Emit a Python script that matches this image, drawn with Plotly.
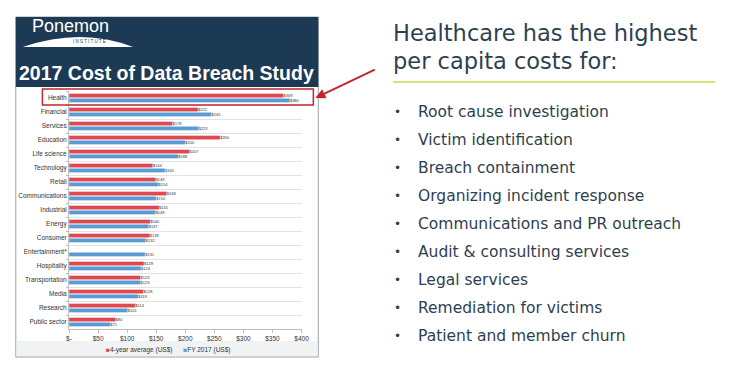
import plotly.graph_objects as go

W, H = 746, 369

categories = ["Health", "Financial", "Services", "Education", "Life science", "Technology",
              "Retail", "Communications", "Industrial", "Energy", "Consumer", "Entertainment*",
              "Hospitality", "Transportation", "Media", "Research", "Public sector"]
avg_4yr = [369, 222, 178, 260, 207, 144, 149, 168, 155, 140, 139, None, 129, 123, 128, 114, 80]
fy_2017 = [380, 245, 223, 200, 188, 165, 154, 150, 149, 137, 132, 131, 124, 123, 119, 101, 71]
tick_vals = [0, 50, 100, 150, 200, 250, 300, 350, 400]
tick_text = ["$-", "$50", "$100", "$150", "$200", "$250", "$300", "$350", "$400"]
series_names = ["4-year average (US$)", "FY 2017 (US$)"]

heading = ["Healthcare has the highest", "per capita costs for:"]
bullets = ["Root cause investigation", "Victim identification", "Breach containment",
           "Organizing incident response", "Communications and PR outreach",
           "Audit & consulting services", "Legal services", "Remediation for victims",
           "Patient and member churn"]

RED = "#e2474e"
BLUE = "#5b9bd5"
NAVY = "#1d3a55"
TXT = "#2e3f50"


def px(x):
    return x / W


def py(y):
    return 1 - y / H


def lab(v):
    return "" if v is None else f"${v}"


fig = go.Figure()
fig.add_trace(go.Bar(y=categories, x=avg_4yr, orientation="h", name=series_names[0],
                     marker_color=RED, text=[lab(v) for v in avg_4yr], textposition="outside",
                     textfont=dict(size=5.8, color="#333"), cliponaxis=False))
fig.add_trace(go.Bar(y=categories, x=fy_2017, orientation="h", name=series_names[1],
                     marker_color=BLUE, text=[lab(v) for v in fy_2017], textposition="outside",
                     textfont=dict(size=5.8, color="#333"), cliponaxis=False))

shapes = []
shapes.append(dict(type="rect", xref="paper", yref="paper", x0=px(13), x1=px(320), y0=py(357), y1=py(17),
                   line=dict(color="#9aa3ab", width=1), fillcolor="white", layer="below"))
shapes.append(dict(type="rect", xref="paper", yref="paper", x0=px(14), x1=px(319), y0=py(341), y1=py(356),
                   line=dict(width=0), fillcolor="#f1f2f3", layer="below"))
shapes.append(dict(type="rect", xref="paper", yref="paper", x0=px(13), x1=px(320), y0=py(87), y1=py(17),
                   line=dict(width=0), fillcolor=NAVY, layer="below"))
shapes.append(dict(type="path", xref="paper", yref="paper",
                   path=f"M {px(20)},{py(47)} Q {px(80)},{py(27)} {px(132)},{py(47)} Z",
                   line=dict(width=0), fillcolor="white"))
shapes.append(dict(type="rect", xref="paper", yref="paper", x0=px(40), x1=px(315), y0=py(105), y1=py(89),
                   line=dict(color="#c1272d", width=1.5)))
shapes.append(dict(type="line", xref="paper", yref="paper", x0=px(396), x1=px(723), y0=py(82), y1=py(82),
                   line=dict(color="#c8d84e", width=1.5)))

ann = []
ann.append(dict(text="Ponemon", x=px(27), y=py(26), xref="paper", yref="paper", xanchor="left",
                yanchor="middle", showarrow=False, font=dict(family="Liberation Sans", size=18, color="white")))
ann.append(dict(text="I N S T I T U T E", x=px(88), y=py(42), xref="paper", yref="paper", xanchor="center",
                yanchor="middle", showarrow=False, font=dict(family="Liberation Sans", size=4.5, color=NAVY)))
ann.append(dict(text="<b>2017 Cost of Data Breach Study</b>", x=px(166), y=py(73), xref="paper", yref="paper",
                xanchor="center", yanchor="middle", showarrow=False,
                font=dict(family="Liberation Sans", size=19.5, color="white")))
ann.append(dict(text="", x=px(317), y=py(98), xref="paper", yref="paper", showarrow=True,
                ax=61, ay=-29, arrowcolor="#c1272d", arrowwidth=2, arrowhead=2, arrowsize=1))
legend_html = (f"<span style='color:{RED}'>■</span>{series_names[0]}      "
               f"<span style='color:{BLUE}'>■</span>{series_names[1]}")
ann.append(dict(text=legend_html, x=px(167), y=py(350), xref="paper", yref="paper", xanchor="center",
                yanchor="middle", showarrow=False, font=dict(family="Liberation Sans", size=6.5, color="#333")))
for i, line in enumerate(heading):
    ann.append(dict(text=line, x=px(394), y=py(33 + 28 * i), xref="paper", yref="paper", xanchor="left",
                    yanchor="middle", showarrow=False, font=dict(family="DejaVu Sans", size=22.5, color=TXT)))
for i, b in enumerate(bullets):
    yy = py(112 + 28 * i)
    ann.append(dict(text="•", x=px(400), y=yy, xref="paper", yref="paper", xanchor="center",
                    yanchor="middle", showarrow=False, font=dict(family="DejaVu Sans", size=12, color=TXT)))
    ann.append(dict(text=b, x=px(419), y=yy, xref="paper", yref="paper", xanchor="left",
                    yanchor="middle", showarrow=False, font=dict(family="DejaVu Sans", size=15.5, color=TXT)))

fig.update_layout(
    width=W, height=H, autosize=False,
    margin=dict(l=0, r=0, t=0, b=0),
    paper_bgcolor="white", plot_bgcolor="white",
    barmode="group", bargap=0.3, bargroupgap=0.15,
    font=dict(family="Liberation Sans", color="#333"),
    xaxis=dict(domain=[px(67), px(303)], range=[0, 400], tickvals=tick_vals, ticktext=tick_text,
               showgrid=False, showline=True, linecolor="#bfbfbf", ticks="outside", ticklen=3,
               tickcolor="#bfbfbf", tickfont=dict(size=6.5, color="#333"), zeroline=False, fixedrange=True),
    yaxis=dict(domain=[py(329), py(91)], autorange="reversed", type="category",
               tickson="boundaries", showgrid=True, gridcolor="#e3e3e3", showline=True,
               linecolor="#bfbfbf", ticks="outside", ticklen=2, tickcolor="#bfbfbf",
               tickfont=dict(size=6.5, color="#333"), fixedrange=True),
    showlegend=False,
    shapes=shapes, annotations=ann,
)

fig.write_html("out.html", config={"displayModeBar": False},
               post_script="document.body.style.margin='0';document.body.style.overflow='hidden';")
